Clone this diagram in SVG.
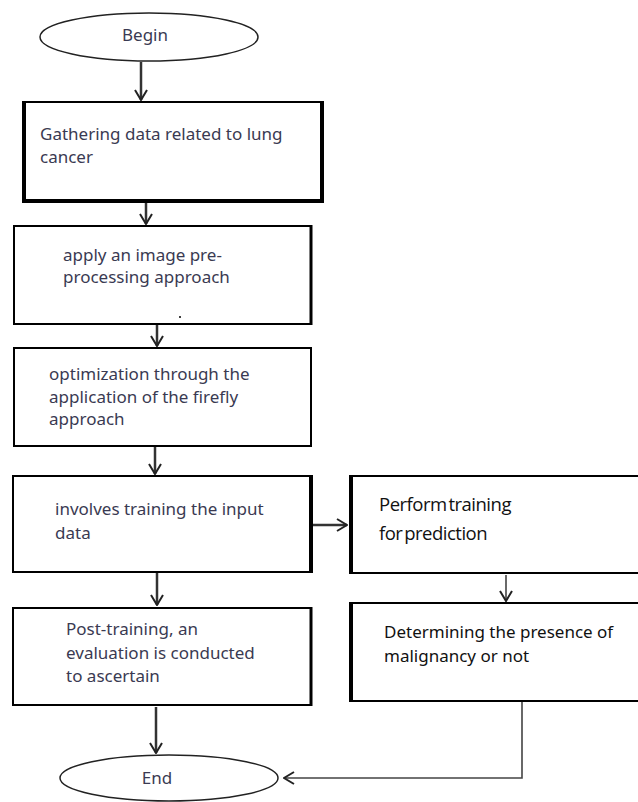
<svg xmlns="http://www.w3.org/2000/svg" width="638" height="802" viewBox="0 0 638 802">
<defs>
<style>
.box{fill:#fff;stroke:#000;stroke-width:2}
.thick{stroke:#000;stroke-width:4;fill:none}
.term{fill:#fff;stroke:#222;stroke-width:1.5}
.t{font-family:"Noto Sans","Open Sans",sans-serif;font-size:17px;fill:#3a3a52}
.tb{font-family:"Noto Sans","Open Sans",sans-serif;font-size:17px;fill:#111}
.tc{font-family:"Open Sans","Noto Sans",sans-serif;font-size:18.5px;fill:#111;letter-spacing:-0.5px;word-spacing:-2.5px}
.c{stroke:#333;stroke-width:2.5;fill:none}
.c2{stroke:#444;stroke-width:1.6;fill:none}
</style>
<marker id="ah" viewBox="0 0 12 14" refX="11" refY="7" markerWidth="12" markerHeight="14" markerUnits="userSpaceOnUse" orient="auto">
<path d="M1,1 L11,7 L1,13" fill="none" stroke="#222" stroke-width="2"/>
</marker>
</defs>
<rect width="638" height="802" fill="#fff"/>

<g id="connectors">
<line class="c" x1="141" y1="62" x2="141" y2="100" marker-end="url(#ah)"/>
<line class="c" x1="146" y1="202" x2="146" y2="224" marker-end="url(#ah)"/>
<line class="c" x1="157" y1="325" x2="157" y2="346" marker-end="url(#ah)"/>
<line class="c" x1="155" y1="447" x2="155" y2="474" marker-end="url(#ah)"/>
<line class="c" x1="313" y1="525" x2="347" y2="525" marker-end="url(#ah)"/>
<line class="c" x1="157" y1="573" x2="157" y2="605" marker-end="url(#ah)"/>
<line class="c2" x1="506" y1="575" x2="506" y2="601" marker-end="url(#ah)"/>
<line class="c" x1="156" y1="707" x2="156" y2="753" marker-end="url(#ah)"/>
<polyline class="c2" points="522,701 522,778 284,778" marker-end="url(#ah)"/>
</g>

<g id="begin">
<ellipse class="term" cx="149" cy="37" rx="109" ry="24"/>
<text class="t" x="145" y="41" text-anchor="middle">Begin</text>
</g>

<g id="gather">
<rect class="box" x="23" y="102" width="300" height="98"/>
<path class="thick" d="M24,101 V201 H322 V101"/>
<text class="t" x="40" y="140">Gathering data related to lung</text>
<text class="t" x="40" y="163">cancer</text>
</g>

<g id="preprocess">
<rect class="box" x="14" y="226" width="297" height="98"/>
<line class="thick" x1="311" y1="225" x2="311" y2="325" style="stroke-width:3"/>
<text class="t" x="63" y="261">apply an image pre-</text>
<text class="t" x="63" y="283">processing approach</text>
<circle cx="180" cy="317" r="1" fill="#000"/>
</g>

<g id="firefly">
<rect class="box" x="14" y="348" width="297" height="98"/>
<text class="t" x="49" y="380">optimization through the</text>
<text class="t" x="49" y="403">application of the firefly</text>
<text class="t" x="49" y="425">approach</text>
</g>

<g id="train">
<rect class="box" x="13" y="476" width="297" height="96"/>
<line class="thick" x1="311" y1="475" x2="311" y2="573"/>
<text class="t" x="55" y="515">involves training the input</text>
<text class="t" x="55" y="539">data</text>
</g>

<g id="predict">
<rect class="box" x="351" y="476" width="290" height="97"/>
<line class="thick" x1="351" y1="475" x2="351" y2="574"/>
<text class="tc" x="379" y="511">Perform training</text>
<text class="tc" x="379" y="540">for prediction</text>
</g>

<g id="evaluate">
<rect class="box" x="13" y="608" width="298" height="97"/>
<line class="thick" x1="311" y1="607" x2="311" y2="706" style="stroke-width:3"/>
<text class="t" x="66" y="635">Post-training, an</text>
<text class="t" x="66" y="659">evaluation is conducted</text>
<text class="t" x="66" y="682">to ascertain</text>
</g>

<g id="determine">
<rect class="box" x="351" y="603" width="290" height="98"/>
<line class="thick" x1="351" y1="602" x2="351" y2="702"/>
<text class="tb" x="384" y="638">Determining the presence of</text>
<text class="tb" x="384" y="662">malignancy or not</text>
</g>

<g id="end">
<ellipse class="term" cx="169" cy="778" rx="109" ry="23"/>
<text class="t" x="157" y="784" text-anchor="middle">End</text>
</g>
</svg>
